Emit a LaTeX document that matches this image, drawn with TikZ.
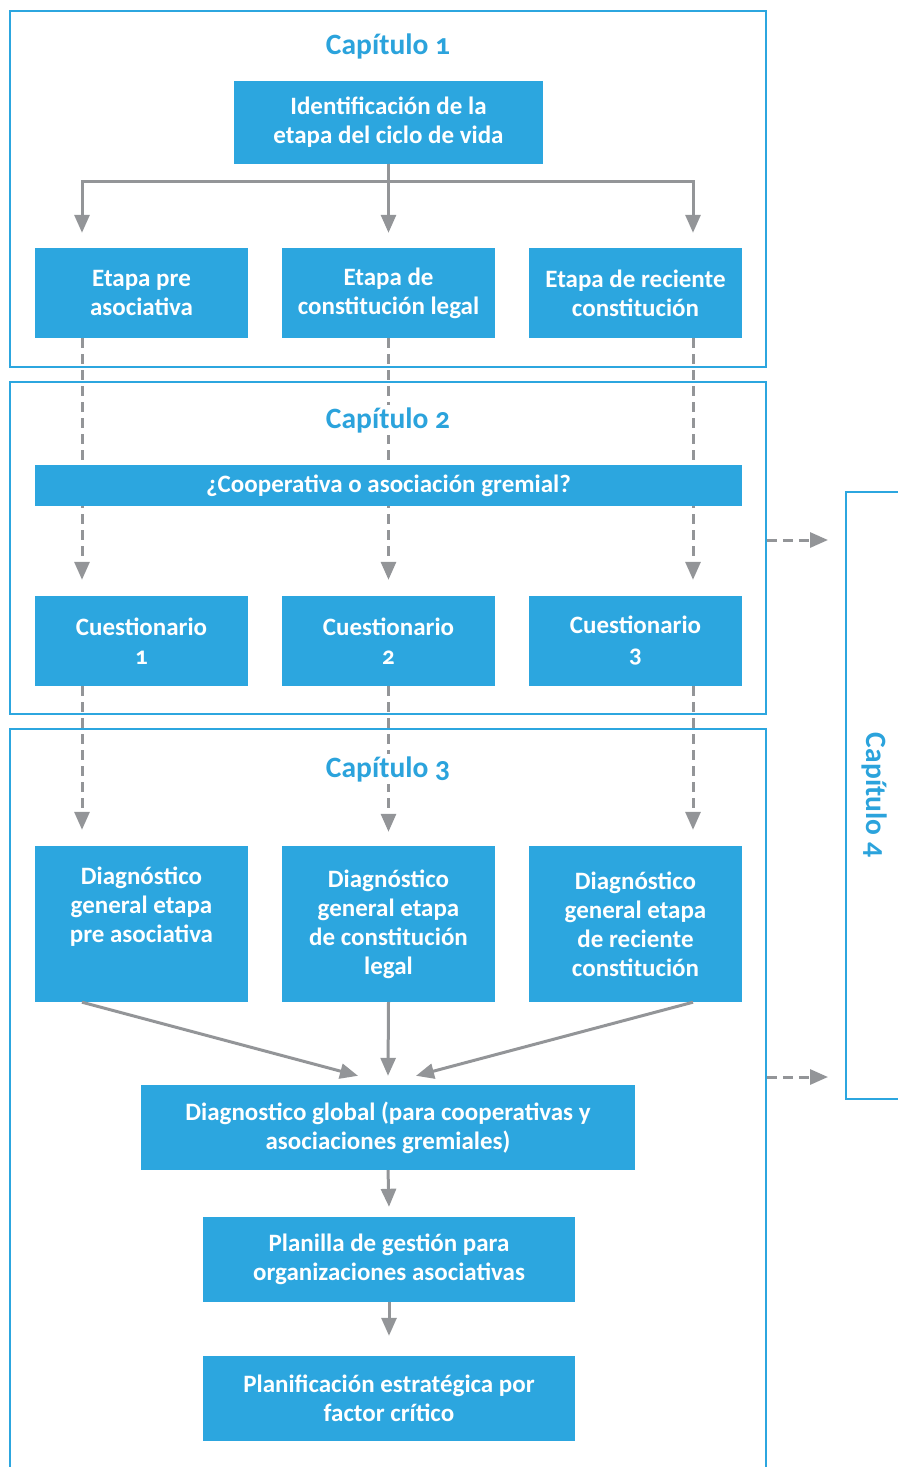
\documentclass[tikz,border=0pt]{standalone}
\usepackage{fontspec}
\setmainfont{Carlito}[Numbers=OldStyle]
\usetikzlibrary{arrows.meta}
\definecolor{cblue}{HTML}{2CA6DF}
\definecolor{tblue}{HTML}{2BA3DC}
\definecolor{agray}{HTML}{939598}
\begin{document}
\begin{tikzpicture}[x=1pt,y=-1pt,
 bx/.style={fill=cblue, text=white, font=\bfseries\fontsize{25}{29}\selectfont, align=center, inner sep=0pt},
 frame/.style={draw=cblue, line width=1.5pt, inner sep=0pt},
 ttl/.style={text=tblue, font=\bfseries\fontsize{29.5}{32}\selectfont, fill=white, inner sep=2pt, anchor=base},
 arr/.style={draw=agray, line width=3pt, -{Triangle[width=15pt,length=18pt]}},
 darr/.style={arr, dash pattern=on 10pt off 6pt},
]
\useasboundingbox (0,0) rectangle (897,1467);
% chapter frames
\node[frame, minimum width=756pt, minimum height=356pt] (c1) at (388,189) {};
\node[frame, minimum width=756pt, minimum height=332pt] (c2) at (388,548) {};
\node[frame, minimum width=756pt, minimum height=752pt] (c3) at (388,1105) {};
\node[frame, minimum width=104pt, minimum height=607pt] (c4) at (898,795.5) {};
\node[ttl] (t1) at (388,54) {Capítulo 1};
\node[text=tblue, font=\bfseries\fontsize{29.5}{32}\selectfont, rotate=-90] (t4) at (875,795) {Capítulo 4};
% boxes
\node[bx, minimum width=309pt, minimum height=83pt] (id) at (388.5,122) {Identificación de la\\etapa del ciclo de vida};
\node[bx, minimum width=213pt, minimum height=90pt] (e1) at (141.5,293) {Etapa pre\\asociativa};
\node[bx, minimum width=213pt, minimum height=90pt] (e2) at (388.5,293) {Etapa de\\constitución legal};
\node[bx, minimum width=213pt, minimum height=90pt] (e3) at (635.5,293) {Etapa de reciente\\constitución};
\node[bx, minimum width=213pt, minimum height=90pt] (q1) at (141.5,641) {Cuestionario\\1};
\node[bx, minimum width=213pt, minimum height=90pt] (q2) at (388.5,641) {Cuestionario\\2};
\node[bx, minimum width=213pt, minimum height=90pt] (q3) at (635.5,641) {Cuestionario\\3};
\node[bx, minimum width=213pt, minimum height=156pt] (d1) at (141.5,924) {Diagnóstico\\general etapa\\pre asociativa\\\strut};
\node[bx, minimum width=213pt, minimum height=156pt] (d2) at (388.5,924) {Diagnóstico\\general etapa\\de constitución\\legal};
\node[bx, minimum width=213pt, minimum height=156pt] (d3) at (635.5,924) {Diagnóstico\\general etapa\\de reciente\\constitución};
\node[bx, minimum width=494pt, minimum height=85pt] (g) at (388,1127.5) {Diagnostico global (para cooperativas y\\asociaciones gremiales)};
\node[bx, minimum width=372pt, minimum height=85pt] (p) at (389,1259.5) {Planilla de gestión para\\organizaciones asociativas};
\node[bx, minimum width=372pt, minimum height=85pt] (f) at (389,1398.5) {Planificación estratégica por\\factor crítico};
% solid arrows chapter 1
\coordinate (bus) at (388,181);
\draw[arr] (id.south) -- ([yshift=15pt]e2.north);
\draw[arr] (id.south) -- (id.south |- bus) -| ([xshift=-59.5pt,yshift=15pt]e1.north);
\draw[arr] (id.south) -- (id.south |- bus) -| ([xshift=57.5pt,yshift=15pt]e3.north);
% dashed arrows to questionnaires
\draw[darr] ([xshift=-59.5pt]e1.south) -- ([xshift=-59.5pt,yshift=16pt]q1.north);
\draw[darr] (e2.south) -- ([yshift=16pt]q2.north);
\draw[darr] ([xshift=57.5pt]e3.south) -- ([xshift=57.5pt,yshift=16pt]q3.north);
% dashed arrows to diagnostics
\draw[darr] ([xshift=-59.5pt]q1.south) -- ([xshift=-59.5pt,yshift=16pt]d1.north);
\draw[darr] (q2.south) -- ([yshift=14pt]d2.north);
\draw[darr] ([xshift=57.5pt]q3.south) -- ([xshift=57.5pt,yshift=16pt]d3.north);
% diagnostics to global
\draw[arr] ([xshift=-59.5pt]d1.south) -- ([xshift=-30pt,yshift=9pt]g.north);
\draw[arr] (d2.south) -- ([yshift=9pt]g.north);
\draw[arr] ([xshift=57.5pt]d3.south) -- ([xshift=28pt,yshift=9pt]g.north);
\draw[arr] (g.south) -- ([yshift=10pt]p.north);
\draw[arr] (p.south) -- ([yshift=20pt]f.north);
% to chapter 4
\coordinate (r1) at (828,540);
\coordinate (r2) at (828,1077);
\draw[darr] (c2.east |- r1) -- (r1);
\draw[darr] (c3.east |- r2) -- (r2);
% overlays
\node[bx, minimum width=707pt, minimum height=41pt] (coop) at (388.5,485.5) {¿Cooperativa o asociación gremial?};
\node[ttl] (t2) at (388,428) {Capítulo 2};
\node[ttl] (t3) at (388,777) {Capítulo 3};
\end{tikzpicture}
\end{document}
